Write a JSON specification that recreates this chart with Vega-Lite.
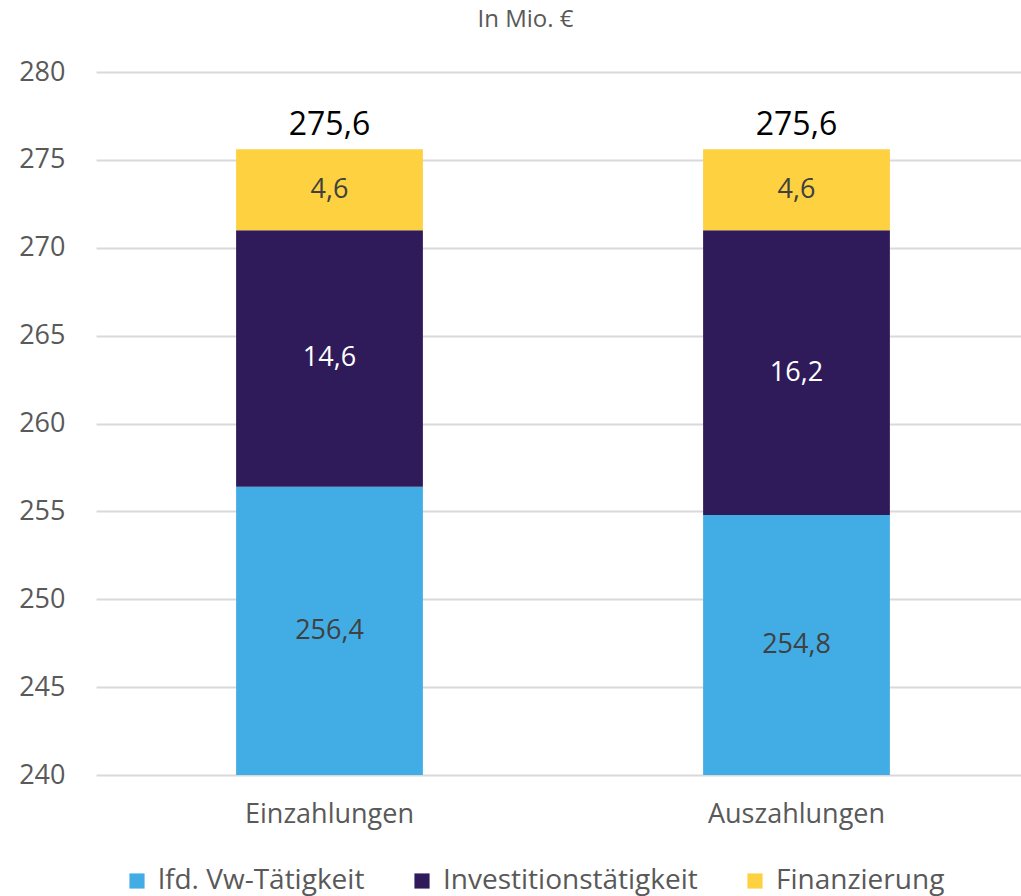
{
  "$schema": "https://vega.github.io/schema/vega-lite/v6.json",
  "autosize": "none",
  "width": 925,
  "height": 703,
  "padding": {"left": 96, "top": 72, "right": 0, "bottom": 121},
  "background": "white",
  "title": {"text": "In Mio. €", "anchor": "middle", "frame": "group", "dx": -33, "offset": 26, "fontSize": 24, "font": "Open Sans", "fontWeight": "normal", "color": "#595959"},
  "config": {
    "locale": {"number": {"decimal": ",", "thousands": ".", "grouping": [3], "currency": ["", " €"]}},
    "view": {"stroke": null},
    "font": "Open Sans",
    "title": {"fontSize": 24, "fontWeight": "normal", "color": "#595959"}
  },
  "data": {"values": [
    {"kategorie": "Einzahlungen", "bereich": "lfd. Vw-Tätigkeit", "ord": 1, "wert": 256.4},
    {"kategorie": "Einzahlungen", "bereich": "Investitionstätigkeit", "ord": 2, "wert": 14.6},
    {"kategorie": "Einzahlungen", "bereich": "Finanzierung", "ord": 3, "wert": 4.6},
    {"kategorie": "Auszahlungen", "bereich": "lfd. Vw-Tätigkeit", "ord": 1, "wert": 254.8},
    {"kategorie": "Auszahlungen", "bereich": "Investitionstätigkeit", "ord": 2, "wert": 16.2},
    {"kategorie": "Auszahlungen", "bereich": "Finanzierung", "ord": 3, "wert": 4.6}
  ]},
  "transform": [
    {"stack": "wert", "groupby": ["kategorie"], "sort": [{"field": "ord", "order": "ascending"}], "as": ["s0", "s1"]},
    {"calculate": "(max(datum.s0, 240) + datum.s1) / 2", "as": "mitte"},
    {"joinaggregate": [{"op": "sum", "field": "wert", "as": "summe"}], "groupby": ["kategorie"]}
  ],
  "encoding": {
    "x": {"field": "kategorie", "type": "nominal", "sort": ["Einzahlungen", "Auszahlungen"],
      "scale": {"paddingInner": 0.6, "paddingOuter": 0.3, "range": [0, 934]},
      "axis": {"title": null, "labelAngle": 0, "domain": false, "ticks": false, "labelFontSize": 27, "labelColor": "#595959", "labelPadding": 26, "labelFont": "Open Sans"}}
  },
  "layer": [
    {
      "mark": {"type": "bar", "clip": true},
      "encoding": {
        "y": {"field": "s1", "type": "quantitative", "scale": {"domain": [240, 280], "nice": false, "zero": false},
          "axis": {"title": null, "values": [240, 245, 250, 255, 260, 265, 270, 275, 280], "format": "d", "domain": false, "ticks": false, "labelFontSize": 27, "labelColor": "#595959", "labelPadding": 31, "gridColor": "#D9D9D9", "gridWidth": 2, "labelFont": "Open Sans"}},
        "y2": {"field": "s0"},
        "color": {"field": "bereich", "type": "nominal",
          "scale": {"domain": ["lfd. Vw-Tätigkeit", "Investitionstätigkeit", "Finanzierung"], "range": ["#42ADE4", "#301B5A", "#FDD13F"]},
          "legend": {"title": null, "orient": "none", "direction": "horizontal", "legendX": 27, "legendY": 795, "symbolType": "square", "symbolSize": 230, "symbolStrokeWidth": 0, "labelFontSize": 28, "labelColor": "#595959", "labelFont": "Open Sans", "labelLimit": 0, "columnPadding": 43, "labelOffset": 7}}
      }
    },
    {
      "mark": {"type": "text", "fontSize": 27, "baseline": "middle", "align": "center"},
      "encoding": {
        "y": {"field": "mitte", "type": "quantitative"},
        "text": {"field": "wert", "type": "quantitative", "format": ".1f"},
        "color": {"condition": {"test": "datum.bereich === 'Investitionstätigkeit'", "value": "white"}, "value": "#404040"}
      }
    },
    {
      "transform": [{"filter": "datum.ord === 3"}],
      "mark": {"type": "text", "fontSize": 32, "baseline": "alphabetic", "align": "center", "dy": -14, "color": "black"},
      "encoding": {
        "y": {"field": "summe", "type": "quantitative"},
        "text": {"field": "summe", "type": "quantitative", "format": ".1f"}
      }
    }
  ]
}
